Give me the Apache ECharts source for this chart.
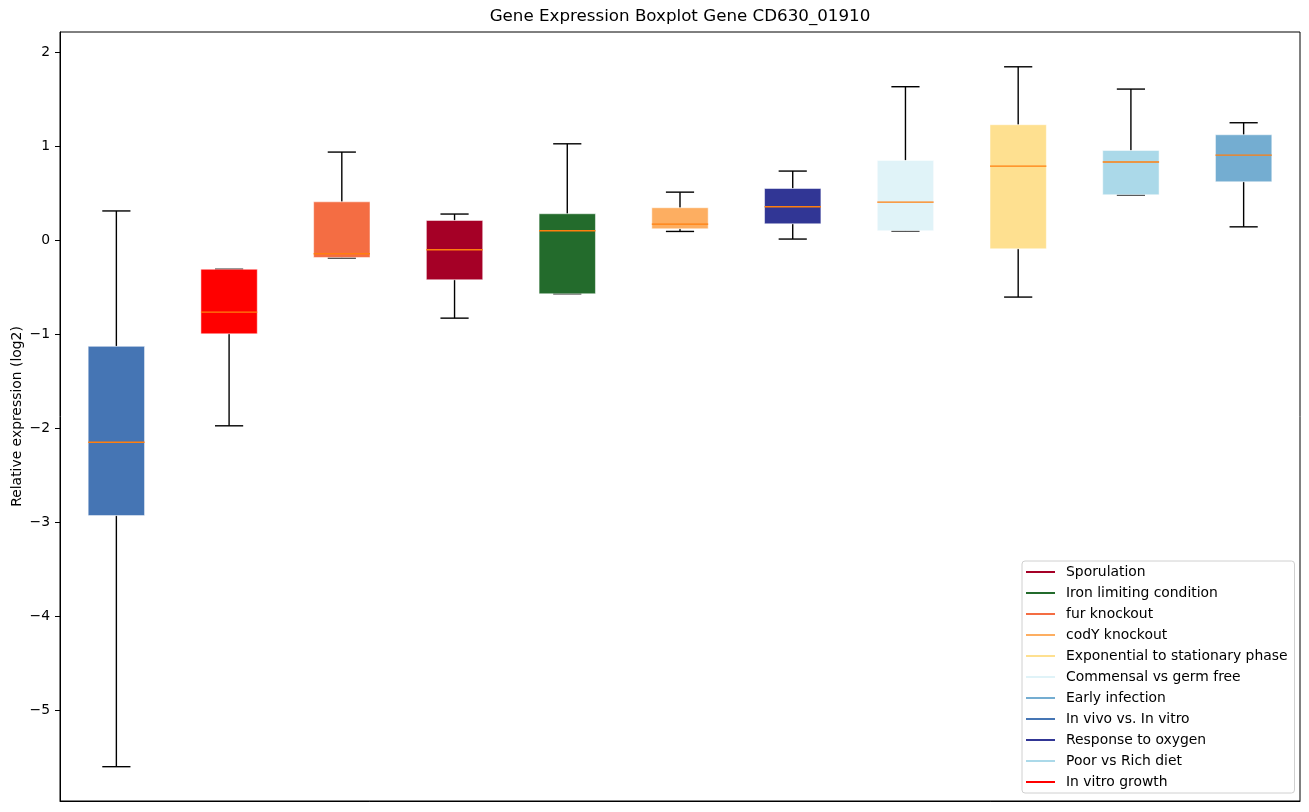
<!DOCTYPE html>
<html>
<head>
<meta charset="utf-8">
<script src="https://cdn.jsdelivr.net/npm/echarts@6/dist/echarts.min.js"></script>
<style>html,body{margin:0;padding:0;background:#fff;}#chart{width:1309px;height:812px;}</style>
</head>
<body>
<div id="chart"></div>
<script>
const categories = ["In vivo vs. In vitro", "In vitro growth", "fur knockout", "Sporulation", "Iron limiting condition", "codY knockout", "Response to oxygen", "Commensal vs germ free", "Exponential to stationary phase", "Poor vs Rich diet", "Early infection"];
const whiskerLow  = [-5.60, -1.975, -0.19, -0.83, -0.571, 0.092, 0.011, 0.096, -0.606, 0.479, 0.141];
const q1          = [-2.93, -0.997, -0.185, -0.422, -0.571, 0.12, 0.173, 0.099, -0.093, 0.482, 0.62];
const medians     = [-2.15, -0.766, -0.146, -0.103, 0.099, 0.17, 0.354, 0.404, 0.787, 0.83, 0.904];
const q3          = [-1.13, -0.31, 0.407, 0.209, 0.28, 0.344, 0.549, 0.847, 1.227, 0.953, 1.12];
const whiskerHigh = [0.31, -0.31, 0.936, 0.277, 1.024, 0.51, 0.734, 1.631, 1.843, 1.606, 1.248];
const legendOrder = ["Sporulation", "Iron limiting condition", "fur knockout", "codY knockout", "Exponential to stationary phase", "Commensal vs germ free", "Early infection", "In vivo vs. In vitro", "Response to oxygen", "Poor vs Rich diet", "In vitro growth"];
const yTicks = [-5, -4, -3, -2, -1, 0, 1, 2];
const colors = ["#4575b4", "#ff0000", "#f46d43", "#a50026", "#236b2c", "#fdae61", "#313695", "#e0f3f8", "#fee090", "#abd9e9", "#74add1"];

const chart = echarts.init(document.getElementById('chart'));
const FONT = 'DejaVu Sans';

function renderBox(params, api) {
  const x = api.value(0);
  const pLow = api.coord([x, api.value(1)]);
  const pQ1 = api.coord([x, api.value(2)]);
  const pMed = api.coord([x, api.value(3)]);
  const pQ3 = api.coord([x, api.value(4)]);
  const pHigh = api.coord([x, api.value(5)]);
  const cw = api.size([1, 0])[0];
  const bw = cw * 0.5;
  const capW = bw / 2;
  const cx = pMed[0];
  const color = api.visual('color');
  const blk = {stroke: '#000', lineWidth: 1.4};
  return {
    type: 'group',
    children: [
      {type: 'line', shape: {x1: cx, y1: pQ3[1], x2: cx, y2: pHigh[1]}, style: blk},
      {type: 'line', shape: {x1: cx, y1: pQ1[1], x2: cx, y2: pLow[1]}, style: blk},
      {type: 'line', shape: {x1: cx - capW / 2, y1: pHigh[1], x2: cx + capW / 2, y2: pHigh[1]}, style: blk},
      {type: 'line', shape: {x1: cx - capW / 2, y1: pLow[1], x2: cx + capW / 2, y2: pLow[1]}, style: blk},
      {type: 'rect', shape: {x: cx - bw / 2, y: pQ3[1], width: bw, height: pQ1[1] - pQ3[1]},
        style: {fill: color, stroke: 'rgba(255,255,255,0.5)', lineWidth: 1}},
      {type: 'line', shape: {x1: cx - bw / 2, y1: pMed[1], x2: cx + bw / 2, y2: pMed[1]},
        style: {stroke: '#ff7f0e', lineWidth: 1.4}}
    ]
  };
}

const series = categories.map((c, i) => ({
  name: c,
  type: 'custom',
  renderItem: renderBox,
  itemStyle: {color: colors[i]},
  encode: {x: 0, y: [1, 2, 3, 4, 5]},
  data: [[i, whiskerLow[i], q1[i], medians[i], q3[i], whiskerHigh[i]]],
  z: 2
}));

chart.setOption({
  animation: false,
  backgroundColor: '#fff',
  title: {
    text: 'Gene Expression Boxplot Gene CD630_01910',
    left: 680, top: 8, textAlign: 'center', padding: 0,
    textStyle: {fontFamily: FONT, fontSize: 16.7, fontWeight: 'normal', color: '#000'}
  },
  grid: {left: 60, top: 32, right: 9, bottom: 11, show: true, borderColor: '#000', borderWidth: 1, backgroundColor: 'transparent', containLabel: false, outerBoundsMode: 'none'},
  legend: {
    data: legendOrder,
    orient: 'vertical', left: 1022, top: 561, align: 'left',
    icon: 'rect', itemWidth: 29, itemHeight: 2, itemGap: 7,
    padding: [4, 7, 4, 4],
    backgroundColor: '#fff', borderColor: '#d0d0d0', borderWidth: 1, borderRadius: 3,
    textStyle: {fontFamily: FONT, fontSize: 13.9, color: '#000', lineHeight: 14, padding: [0, 0, 0, 6]}
  },
  xAxis: {
    type: 'category', data: categories, boundaryGap: true,
    axisLine: {show: true, onZero: false, lineStyle: {color: '#000'}},
    axisTick: {show: false}, axisLabel: {show: false}, splitLine: {show: false}
  },
  yAxis: {
    type: 'value', min: -5.965, max: 2.213,
    name: 'Relative expression (log2)', nameLocation: 'middle', nameGap: 36, nameMoveOverlap: false,
    nameTextStyle: {fontFamily: FONT, fontSize: 13.9, color: '#000'},
    axisLine: {show: true, lineStyle: {color: '#000'}},
    axisTick: {show: true, length: 5, inside: false, customValues: yTicks, lineStyle: {color: '#000'}},
    axisLabel: {customValues: yTicks, margin: 10, fontFamily: FONT, fontSize: 13.9, color: '#000',
      formatter: v => String(v).replace('-', '\u2212')},
    splitLine: {show: false}
  },
  series: series
});
</script>
</body>
</html>
